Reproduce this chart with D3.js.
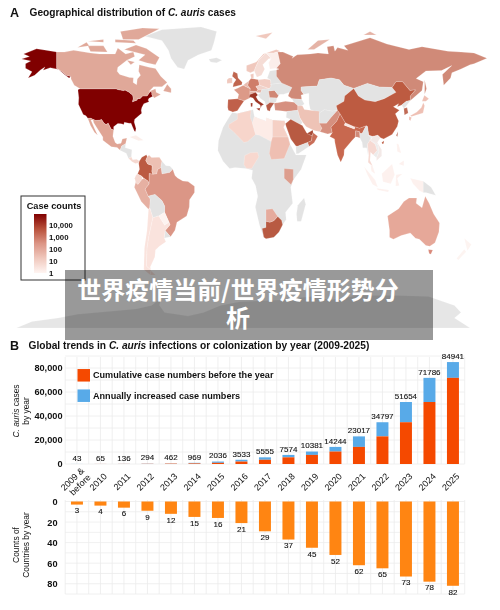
<!DOCTYPE html>
<html><head><meta charset="utf-8">
<script src="https://cdnjs.cloudflare.com/ajax/libs/d3/7.8.5/d3.min.js"></script>
<style>
html,body{margin:0;padding:0;background:#fff;overflow:hidden}
svg{display:block}
text{font-family:"Liberation Sans",Arial,sans-serif;fill:#111}
</style></head><body>
<svg id="c" width="500" height="610"></svg>
<script>
// ---------- data ----------
const years = ["2009 & before","2010","2011","2012","2013","2014","2015","2016","2017","2018","2019","2020","2021","2022","2023","2024","2025"];
const totals = [43,65,136,294,462,969,2036,3533,5555,7574,10381,14244,23017,34797,51654,71786,84941];
const before = [0,43,65,136,294,462,969,2036,3533,5555,7574,10381,14244,23017,34797,51654,71786];
const countries = [3,4,6,9,12,15,16,21,29,37,45,52,62,65,73,78,82];
const caseTicks = [0,20000,40000,60000,80000];
const countryTicks = [0,20,40,60,80];
const legendTicks = ["10,000","1,000","100","10","1"];
const seriesNames = ["Cumulative case numbers before the year","Annually increased case numbers"];

const GREY="#e3e3e3";
// country outlines as [lon,lat]
const land = [
 ["Antarctica","#e6e6e6",[[-172,-84.6],[-160,-81],[-140,-79],[-125,-77],[-110,-76],[-95,-75],[-80,-74],[-68,-72],[-61,-68],[-62,-72],[-58,-76],[-40,-78],[-28,-76],[-15,-72],[0,-70],[30,-69],[55,-67],[70,-69],[90,-66.5],[120,-66.5],[145,-67],[165,-72],[170,-76],[165,-79],[177,-84.6]]],
 ["Greenland",GREY,[[-73,78.3],[-60,82],[-30,83.5],[-18,81],[-20,75],[-22,70.5],[-32,68],[-40,65],[-43,60],[-48,61],[-53,66],[-55,70.5],[-60,76]]],
 ["Iceland",GREY,[[-24,65.5],[-18,66.3],[-14,65],[-18,63.5],[-22.5,64]]],
 ["Alaska","#800000",[[-141,69.6],[-141,60.3],[-137.5,58.9],[-133.5,56.5],[-130,55.9],[-131.5,55],[-135,57],[-139.5,59.8],[-146,60.8],[-151.5,59.3],[-150,61.2],[-153.5,59.5],[-158,56.5],[-163,55],[-160,58.5],[-165,60.5],[-165,63],[-161,64.5],[-168,65.6],[-162,67],[-166.5,68.4],[-156.5,71.3],[-148,70.4]]],
 ["USA","#800000",[[-124.7,48.4],[-123,49],[-95.2,49],[-94.6,48.7],[-92,48.3],[-89.6,48],[-88.4,48.3],[-84.9,46.9],[-84.5,46.5],[-83.6,46.1],[-82.5,45.3],[-82.1,43.6],[-82.7,41.7],[-79,42.8],[-79.2,43.5],[-76.8,43.6],[-75,45],[-71.5,45],[-70.3,46.2],[-69.2,47.4],[-67.8,47.1],[-67.8,45.7],[-67,44.8],[-70,43.7],[-70.7,42.7],[-70,41.7],[-74,40.7],[-75.5,38.5],[-76,37],[-75.6,35.3],[-77.9,33.9],[-81,32],[-81.4,30.5],[-80,26.8],[-80.4,25.2],[-81.2,25.3],[-82.8,28],[-83.8,29.8],[-85.3,29.7],[-89,30.3],[-89.3,29.1],[-91.5,29.5],[-94,29.6],[-97.2,27.8],[-97.2,26],[-99.2,26.5],[-101.4,29.8],[-103,29],[-104.6,29.8],[-106.5,31.8],[-108.2,31.4],[-111,31.3],[-114.8,32.5],[-117.1,32.5],[-118.5,34],[-120.6,34.6],[-122.4,37.5],[-124.3,40.3],[-124,44]]],
 ["Canada","#e0a899",[[-141,69.6],[-135,69.5],[-128,70.5],[-115,69],[-108,68.5],[-96,68.5],[-94,71.8],[-88,68.5],[-82,69.5],[-81,67],[-87,65],[-94,61],[-94.5,58.8],[-92.5,57],[-85,55.3],[-82,55.2],[-82.2,52.5],[-79.5,51.3],[-79,54.5],[-76.5,56.5],[-78,58.8],[-77.5,62.4],[-70,61],[-65,60.3],[-61,56],[-56,52.5],[-60,50.2],[-66.5,50.2],[-70,47.5],[-65,49],[-64.5,47],[-61,45.8],[-66,43.8],[-67,44.8],[-67.8,45.7],[-67.8,47.1],[-69.2,47.4],[-70.3,46.2],[-71.5,45],[-75,45],[-76.8,43.6],[-79.2,43.5],[-79,42.8],[-82.7,41.7],[-82.1,43.6],[-82.5,45.3],[-83.6,46.1],[-84.5,46.5],[-84.9,46.9],[-88.4,48.3],[-89.6,48],[-92,48.3],[-94.6,48.7],[-95.2,49],[-123,49],[-127.5,51],[-130,54.5],[-130,55.9],[-133.5,56.5],[-137.5,58.9],[-141,60.3]]],
 ["Baffin","#e0a899",[[-80,73.5],[-72,71.5],[-62,66.5],[-65,62.5],[-72,63.5],[-78,65],[-73,68],[-89,71]]],
 ["Victoria","#e0a899",[[-117,73],[-105,73],[-102,69.5],[-115,69.8]]],
 ["Ellesmere","#e0a899",[[-90,76.5],[-78,76.5],[-62,82.5],[-75,83],[-92,81]]],
 ["Banks","#e0a899",[[-125,72],[-118,75],[-116,73]]],
 ["Melville","#e0a899",[[-117,75.5],[-105,76.5],[-105,75]]],
 ["Devon","#e0a899",[[-96,75],[-80,74.5],[-82,76],[-96,76.5]]],
 ["Southampton","#e0a899",[[-87,65],[-81,64],[-84,62.5]]],
 ["Newfoundland","#e0a899",[[-59,47.7],[-53,46.8],[-53,49],[-56,51.5]]],
 ["Mexico","#e0a595",[[-117.1,32.5],[-114.8,32.5],[-111,31.3],[-108.2,31.4],[-106.5,31.8],[-104.6,29.8],[-103,29],[-101.4,29.8],[-99.2,26.5],[-97.2,26],[-97.8,22.5],[-96,19],[-94.5,18.2],[-91.5,18.6],[-90.5,21],[-87,21.5],[-88,18.3],[-89,17.9],[-91,17],[-92.2,14.6],[-94.5,16.2],[-99,16.6],[-105.5,20.2],[-105.5,22],[-109.5,26.5],[-112.5,30],[-113,31.5],[-114.7,31.5],[-112,27],[-109.5,23],[-112,24.7],[-115,28.5]]],
 ["Central America",GREY,[[-92.2,14.6],[-91,17],[-89,17.9],[-88,18.3],[-88.3,16],[-83.2,15],[-83.6,11],[-85.7,10],[-87.5,13]]],
 ["Panama","#f5d8d0",[[-83.6,11],[-82.5,9.3],[-79.5,9.6],[-77.4,8.6],[-78,7.5],[-80.5,7.3],[-83,8.3],[-85.7,10]]],
 ["Cuba","#fbeeea",[[-85,22],[-80,23],[-74.2,20.2],[-78,20]]],
 ["Colombia","#bb5a42",[[-77.4,8.6],[-75.5,10.8],[-72,12.2],[-71.3,11],[-72.5,9],[-71,7],[-67.5,6.2],[-67.8,2.8],[-67,1.2],[-69.8,1.7],[-69.9,-4.2],[-70.8,-2.5],[-74,-1],[-75.5,0.1],[-78.8,1.4],[-77.3,4],[-77.9,7.2]]],
 ["Venezuela","#edc0b3",[[-71.3,11],[-72.5,9],[-71,7],[-67.5,6.2],[-67.8,2.8],[-67,1.2],[-64,1.5],[-63.4,3.9],[-60.8,5],[-60,8.5],[-62,10.7],[-68,10.6],[-70,12]]],
 ["Guianas",GREY,[[-60,8.5],[-60.8,5],[-60,1.4],[-56,2],[-54,2.3],[-51.7,4],[-54,5.8],[-57,6]]],
 ["Ecuador","#f5d8d0",[[-78.8,1.4],[-75.5,0.1],[-75.3,-1.5],[-78.5,-4.5],[-80.3,-3.4],[-81,-1],[-80,0.8]]],
 ["Peru","#e6b0a2",[[-80.3,-3.4],[-78.5,-4.5],[-75.3,-1.5],[-74,-1],[-70.8,-2.5],[-69.9,-4.2],[-73,-7],[-70.6,-11],[-69,-12.5],[-69.4,-17.5],[-70.4,-18.3],[-76,-14],[-81.3,-6]]],
 ["Brazil","#db9686",[[-51.7,4],[-54,2.3],[-56,2],[-60,1.4],[-60.8,5],[-63.4,3.9],[-64,1.5],[-67,1.2],[-69.8,1.7],[-69.9,-4.2],[-73,-7],[-70.6,-11],[-65.4,-10],[-60,-13.5],[-58,-16.5],[-58,-20],[-54.6,-25.5],[-53.8,-27],[-57.6,-30.2],[-53.4,-33.7],[-50,-30],[-48.5,-25.5],[-41,-22],[-39,-17],[-38.8,-13],[-35,-9],[-35,-5.5],[-40,-2.8],[-44,-2.5],[-48,-0.8],[-50,0.5]]],
 ["Bolivia",GREY,[[-69,-12.5],[-70.6,-11],[-65.4,-10],[-60,-13.5],[-58,-16.5],[-58,-20],[-62.5,-22],[-67,-23],[-69.4,-17.5]]],
 ["Paraguay","#fdf3f0",[[-62.5,-22],[-58,-20],[-54.6,-25.5],[-58,-27.2]]],
 ["Uruguay",GREY,[[-57.6,-30.2],[-53.4,-33.7],[-58.3,-34.3]]],
 ["Chile","#fae3dd",[[-69.4,-17.5],[-67,-23],[-70,-33],[-71.5,-40],[-72,-50],[-68.5,-52.3],[-69,-55],[-74,-52],[-73.5,-40],[-71.5,-30],[-70.4,-18.3]]],
 ["Argentina","#fae3dd",[[-67,-23],[-62.5,-22],[-58,-27.2],[-54.6,-25.5],[-53.8,-27],[-57.6,-30.2],[-58.3,-34.3],[-57,-36.5],[-62,-39],[-65,-41],[-65.5,-45],[-69,-50.5],[-68.5,-52.3],[-72,-50],[-71.5,-40],[-70,-33]]],
 ["Tierra del Fuego","#fae3dd",[[-68.5,-52.7],[-65,-55],[-69,-55]]],
 ["Africa",GREY,[[-6,35.8],[-2,35.2],[10,37.3],[11,33.5],[15,32.3],[20,31],[20,32.8],[25,31.6],[32.5,31.2],[34.3,31.2],[33.5,27.5],[37,22],[38.5,18],[43,12],[51,12],[47,4],[41,-2],[39,-6],[40.5,-15],[35,-20],[35.5,-24],[32.8,-27],[30,-31],[26,-34],[20,-34.8],[18.3,-34],[15,-27],[11.8,-17],[13.7,-11],[12,-5],[9,-1],[9.7,3.5],[5,4.5],[-4,5],[-8,4.5],[-13,8.5],[-17,14.5],[-16.5,20],[-13,27.5],[-9.7,31.5]]],
 ["Algeria","#f7d5cb",[[-2,35.2],[8.5,37],[8,33],[9.5,30],[12,23.5],[6,19.5],[3,19],[-5,25],[-8.7,27.3],[-8.7,29],[-2,32]]],
 ["Libya","#fdece7",[[11,33.5],[15,32.3],[20,31],[20,32.8],[25,31.6],[25,20],[24,19.5],[15,23],[12,23.5],[9.5,30]]],
 ["Egypt","#f5d0c5",[[25,31.6],[32.5,31.2],[34.3,31.2],[34.9,29.4],[33.5,27.5],[37,22],[25,22]]],
 ["Sudan","#efbfb2",[[25,22],[37,22],[38.5,18],[36.5,14.5],[34,10],[24,9.5],[22.5,13],[24,19.5]]],
 ["Nigeria","#f8d8cf",[[3,6.5],[3.6,11.7],[8,13.3],[13.5,13.5],[14.5,11],[9,4.5],[5,4.5]]],
 ["Kenya","#dd9e8e",[[34,4.5],[41,4],[41,-1.7],[39.3,-4.6],[34,-1]]],
 ["South Africa","#b85a42",[[17,-29],[20,-28.5],[20,-25],[23,-25.5],[26,-24.7],[29,-22.3],[32,-24.5],[32.8,-27],[30,-31],[26,-34],[20,-34.8],[18.3,-34]]],
 ["Botswana","#e5ab9d",[[20,-18.5],[25,-18],[29,-22.3],[26,-24.7],[23,-25.5],[20,-25]]],
 ["Madagascar",GREY,[[49.3,-12],[50.5,-15.5],[47,-25],[44,-25],[43.5,-21],[44.5,-16]]],
 ["UK","#c0664f",[[-5.5,50],[1.4,51.2],[1.7,52.7],[-1.5,55],[-2,57.6],[-5,58.6],[-6,56],[-3,54],[-5,52]]],
 ["Ireland","#f0c8bd",[[-10,52],[-6,52.2],[-6,55],[-8.5,55],[-10,54]]],
 ["Spain","#c0604a",[[-9.2,43],[-1.8,43.4],[3.2,42.3],[0,39],[-2,36.8],[-5.5,36],[-9,37],[-9.5,38.7]]],
 ["France","#dc9a88",[[-1.8,43.4],[3.2,42.3],[7.5,43.8],[8,49],[2.5,51],[-1.5,49.5],[-4.7,48.5],[-1,46]]],
 ["Benelux","#e8bcb0",[[2.5,51],[4,52],[7,53.5],[6,51],[8,49]]],
 ["Germany","#cf7d69",[[6,51],[7,53.5],[8.6,54.9],[14.2,54],[15,51],[12.2,50.3],[13.8,48.7],[13,47.5],[7.6,47.6],[8,49]]],
 ["Austria","#e5b3a6",[[7.6,47.6],[13,47.5],[13.8,48.7],[17,48.7],[16,46.8],[12,47],[7.5,45.8]]],
 ["Poland","#f3cdc3",[[14.2,54],[19,54.5],[23.5,54],[24,50.5],[22.5,49],[15,51]]],
 ["Czechia","#f0d2ca",[[12.2,50.3],[15,51],[22.5,49],[17,48.7],[13.8,48.7]]],
 ["Balkans",GREY,[[16,46.8],[17,48.7],[22.5,49],[22,47.8],[22.8,44],[23,41.4],[20,39.7],[19,42],[16,43.5],[13.7,45.6]]],
 ["Italy","#9d3626",[[7,44],[7.5,45.8],[12,47],[13.7,45.6],[12.3,44.5],[14,42.5],[18.4,40.2],[16.5,39.5],[16,38],[15.5,40],[12,41.8],[10,43.8],[8,44.3]]],
 ["Sicily","#9d3626",[[12.5,38],[15.5,38.2],[15,36.7]]],
 ["Sardinia","#9d3626",[[8.2,41],[9.7,41],[9.5,39.1],[8.4,39]]],
 ["Romania","#d08775",[[22,47.8],[26.5,48.2],[29.7,45.2],[28.5,43.8],[22.8,44]]],
 ["Bulgaria",GREY,[[22.8,44],[28.5,43.8],[27.8,42],[26.3,41],[23,41.4]]],
 ["Greece","#b85c48",[[20,39.7],[23,41.4],[26.3,41],[23.5,38],[23,36.5],[21,37]]],
 ["Ukraine",GREY,[[24,50.5],[23.5,51.5],[32,52.3],[40,49.7],[38,47],[33.5,46],[30.5,46],[29.7,45.2],[26.5,48.2],[22,47.8],[22.5,49]]],
 ["Belarus-Baltics",GREY,[[23.5,54],[21,55],[23,59],[28,59.5],[28,56],[32,52.3],[23.5,51.5],[24,50.5]]],
 ["Norway","#f0c8bd",[[5,59],[8,58],[11,59],[12,61],[14.5,65],[20,69],[26,69],[31,70],[28,71],[18,68.5],[12.5,64],[5,62]]],
 ["Sweden","#f5dcd5",[[11,59],[13,55.5],[16.5,56.5],[19,60],[17.5,62.5],[22,65.8],[24,66],[20,69],[14.5,65],[12,61]]],
 ["Finland","#fbeeea",[[24,66],[22,63.5],[23,60],[28,60.5],[31,63],[29,69.5],[26,69],[20,69]]],
 ["Denmark","#f0c8bd",[[8.6,54.9],[8,57],[10.5,57.5],[10.5,55]]],
 ["Russia","#d08a78",[[28,59.5],[30,60],[28,60.5],[31,63],[29,69.5],[33,69.5],[41,67],[40,66],[44,68],[54,68.5],[60,69],[68,68.5],[67,72.5],[72,73],[73,70],[75,72],[83,70.5],[80,73],[100,77.5],[113,74],[130,71],[140,72.5],[160,70],[170,69.5],[180,69],[190,66],[180,63],[177,62.5],[170,60],[163,58],[162,55],[156.7,51],[155.7,57],[163,62],[155,59.2],[143,59],[135.5,54.7],[141,53],[140,48],[132,43],[131,42.5],[131,45],[135,48.4],[130.7,48],[125,53],[120,53],[117,49.7],[107,50],[98,52],[87.5,49.2],[80,51],[76.5,54],[70,55],[61,54],[59.5,50.5],[47,50],[47,48],[49,46],[47.5,43],[40,43.5],[37,45],[38,47],[40,49.7],[32,52.3],[28,56]]],
 ["Sakhalin","#d08a78",[[142,54],[143.5,49],[142,46],[142,50]]],
 ["Novaya Zemlya","#e5b3a6",[[52,71],[57,71],[69,76.5],[60,76]]],
 ["Svalbard","#f0c8bd",[[12,78.5],[25,80.5],[20,77]]],
 ["Severnaya Zemlya","#e5b3a6",[[95,79],[105,79],[100,81]]],
 ["Central Asia",GREY,[[47,50],[59.5,50.5],[61,54],[70,55],[76.5,54],[80,51],[87.5,49.2],[80.5,45],[80,42],[74,39.5],[75,37],[71,36.5],[65,37.3],[61,35.5],[54,37.5],[53,41],[51,45],[49,46],[47,48]]],
 ["Caspian","#ffffff",[[47,45.5],[53,46.5],[53,40],[54,37],[50,37.2],[49.5,40.5],[47.5,43]]],
 ["Mongolia",GREY,[[87.5,49.2],[98,52],[107,50],[117,49.7],[120,47],[111,43.5],[104,41.8],[96,42.7],[91,45]]],
 ["Caucasus",GREY,[[40,43.5],[47.5,43],[49.5,40.5],[46,39],[43,40.5],[41.5,41.5]]],
 ["Turkey","#d69080",[[26.3,41],[29,41.2],[35,42],[41.5,41.5],[44.5,39.5],[44.5,37],[36,36.3],[31,36.8],[27,37]]],
 ["Levant-Iraq",GREY,[[36,36.3],[44.5,37],[46,33],[48,30],[46.5,29],[39,32],[35.5,33]]],
 ["Saudi Arabia","#b85a42",[[34.9,29.4],[39,32],[46.5,29],[48,28.5],[50,26],[51.2,24.5],[55.5,22.7],[55,20],[52,19],[44,16.8],[43,17],[39,21],[35.5,28]]],
 ["UAE","#a84a35",[[51.5,24],[56,26],[56.3,24.5],[55.5,22.7]]],
 ["Oman","#c96e58",[[56.3,24.5],[59.8,22.5],[57,18.8],[53,16.7],[52,19],[55,20],[55.5,22.7]]],
 ["Yemen",GREY,[[44,16.8],[52,19],[53,16.7],[45,12.8],[43.3,12.7],[43,17]]],
 ["Iran","#eec3b6",[[44.5,39.5],[48,39.5],[49.5,37.5],[54,37],[61,36.5],[61,31],[63,27],[61.5,25],[57,25.7],[51,27.8],[48.5,30],[46,33],[44.5,37]]],
 ["Afghanistan",GREY,[[61,35.5],[65,37.3],[71,36.5],[75,37],[70,33],[66.5,29.8],[61,29.8]]],
 ["Pakistan","#d6907f",[[61.5,25],[63,27],[61,29.8],[66.5,29.8],[70,33],[75,37],[77,35],[74.5,31],[70,27.5],[71,24.5],[67.5,23.8]]],
 ["India","#c8684f",[[77,35],[79,32.5],[81,30],[80.3,28.7],[88,26.5],[88.3,27.8],[92,27],[97,28.3],[94,24],[92.3,24],[92,25],[89,25.5],[88.7,22],[86,20],[80.2,15],[80,12],[77.5,8],[75,12],[73,19],[72.7,21],[69,22.3],[71,24.5],[70,27.5],[74.5,31]]],
 ["Nepal","#f8e6e1",[[81,30],[88,27.8],[88,26.5],[80.3,28.7]]],
 ["Bangladesh","#d08a78",[[88.7,22],[89,25.5],[92,25],[92.3,21.5],[90,22]]],
 ["China","#bd5b41",[[74,39.5],[80,42],[80.5,45],[87.5,49.2],[91,45],[96,42.7],[104,41.8],[111,43.5],[120,47],[117,49.7],[120,53],[125,53],[130.7,48],[135,48.4],[131,45],[131,42.5],[128,42],[124.4,40],[121,39],[122,40.7],[118,39],[122.6,37],[119.5,35],[122,31],[121,28],[117,23.5],[110.5,21],[108,21.6],[106,23],[102,22.4],[99,23],[98,28],[97,28.3],[92,27],[88.3,27.8],[88,27.8],[81,30],[79,32.5],[77,35],[75,37]]],
 ["Hainan","#bd5b41",[[109,19],[110.8,20],[110.5,18.5],[109.5,18.2]]],
 ["Taiwan","#a84a35",[[120.2,23],[121.6,25.2],[121,22.2]]],
 ["North Korea",GREY,[[124.4,40],[128,42],[131,42.5],[128,39.5],[126,38]]],
 ["South Korea","#c06a55",[[126,38],[128.5,38.5],[129.4,35.5],[126.5,34.4]]],
 ["Honshu","#efc0b4",[[130.9,34],[136,36],[139.5,38.5],[141,41.3],[142,39.5],[140.8,35.5],[137,34.6],[132,33.5]]],
 ["Hokkaido","#efc0b4",[[140,42],[141.8,45.4],[145.3,43.4],[143,42]]],
 ["Kyushu","#efc0b4",[[130,33.5],[132,33],[131,31],[130,32]]],
 ["Myanmar",GREY,[[92.3,21.5],[92.3,24],[94,24],[97,28.3],[98,28],[99,23],[101,21.5],[98,18],[98.5,12],[97.5,16],[94.5,16],[94,19]]],
 ["Laos-Cambodia","#ececec",[[99,23],[102,22.4],[100.5,20],[104,18],[105.5,14.5],[102.5,12],[105,10.5],[107,14],[106,18],[101,21.5]]],
 ["Thailand","#f6d9d2",[[101,21.5],[100.5,20],[104,18],[105.5,14.5],[102.5,12],[100.5,13.5],[100,9],[102,6],[100.5,6.5],[98.5,8],[99,12],[98,18]]],
 ["Vietnam","#f3e9e7",[[102,22.4],[106,23],[108,21.6],[105.7,19],[109,15],[109,11.5],[105,8.8],[105,10.5],[107,14],[106,18],[100.5,20]]],
 ["Sumatra","#fdf1ee",[[95.5,5.5],[104,-2],[106,-6],[102,-4.5],[98,1]]],
 ["Java","#fdf1ee",[[105,-6.5],[114.5,-7.5],[114,-8.7],[106,-7.5]]],
 ["Borneo","#fdf1ee",[[109,1.5],[117,7],[119,1],[116,-4],[110,-3]]],
 ["Sulawesi","#fdf1ee",[[120,1],[125,1.5],[121,-1],[122.5,-5],[119.7,-5.5]]],
 ["Malaya","#fdf1ee",[[100.5,6.5],[102,6],[104,1.5],[101,3]]],
 ["Luzon","#fdf1ee",[[120.5,18.5],[122,18],[124,13],[121,14]]],
 ["Mindanao","#fdf1ee",[[122,7],[126,9],[126,6]]],
 ["New Guinea","#fdf1ee",[[131,-1],[141,-2.6],[141,-9],[138,-8],[133,-4]]],
 ["PNG",GREY,[[141,-2.6],[147,-6],[150.5,-10.5],[143,-9],[141,-9]]],
 ["Australia","#e6a899",[[113.5,-22],[122,-18],[126,-14],[130,-12],[136,-12],[135.5,-15],[140,-17.5],[142.5,-11],[145.5,-15],[149,-21],[153.5,-26],[153,-31],[150,-37],[146,-39],[143,-38.5],[138,-35],[135,-34.5],[131,-31.5],[124,-33],[118,-35],[115,-34],[115,-30]]],
 ["Tasmania","#d9897a",[[144.8,-40.8],[148.3,-41],[146.8,-43.5],[145.5,-43]]],
 ["NZ North","#fdf4f1",[[172.5,-34.5],[178,-38],[175,-41.5],[174,-39]]],
 ["NZ South","#fdf4f1",[[172.5,-40.7],[174,-42],[168,-46.7],[166.5,-45.8]]]
];

// ---------- layout ----------
const svg = d3.select("#c");
const g = svg.append("g").style("filter","blur(0.55px)");
const lonX = d3.scaleLinear().domain([0,100]).range([240,370]);
const latY = d3.scaleLinear().domain([0,100]).range([176.5,-2.5]);
const ring = d3.line().x(d=>lonX(d[0])).y(d=>latY(d[1])).curve(d3.curveLinearClosed);

// ---------- map ----------
g.append("g").selectAll("path").data(land).join("path")
  .attr("d",d=>ring(d[2])).attr("fill",d=>d[1])
  .attr("stroke",d=>d[1]==GREY?"#f2f2f2":"#ffffff").attr("stroke-opacity",.55).attr("stroke-width",.35);

// titles
function title(x,y,parts,size){
  const t=g.append("text").attr("x",x).attr("y",y).attr("font-size",size).attr("font-weight","bold");
  parts.forEach(p=>t.append("tspan").text(p[0]).attr("font-style",p[1]?"italic":"normal"));
  return t;
}
title(10,17,[["A"]],12.5);
title(29.5,15.8,[["Geographical distribution of "],["C. auris",1],[" cases"]],10.15);
title(10,349.5,[["B"]],12.5);
title(28.5,348.8,[["Global trends in "],["C. auris",1],[" infections or colonization by year (2009-2025)"]],10.2);

// colour legend
const defs=svg.append("defs");
const lg=defs.append("linearGradient").attr("id","lg").attr("x1",0).attr("x2",0).attr("y1",0).attr("y2",1);
[[0,"#800000"],[.25,"#b8503a"],[.5,"#dc9585"],[.75,"#f0c8bd"],[1,"#fff5f2"]].forEach(s=>lg.append("stop").attr("offset",s[0]).attr("stop-color",s[1]));
g.append("rect").attr("x",21).attr("y",196).attr("width",64).attr("height",84).attr("fill","#fff").attr("stroke","#333").attr("stroke-width",1);
g.append("text").attr("x",54).attr("y",209).attr("text-anchor","middle").attr("font-size",9.2).attr("font-weight","bold").text("Case counts");
g.append("rect").attr("x",34).attr("y",214).attr("width",12.5).attr("height",59).attr("fill","url(#lg)");
const legY=d3.scalePoint().domain(legendTicks).range([225,273]);
g.append("g").selectAll("text").data(legendTicks).join("text")
  .attr("x",49).attr("y",d=>legY(d)).attr("dy","0.35em").attr("font-size",7.8).attr("font-weight","bold").text(d=>d);

// ---------- chart scales ----------
const x=d3.scaleBand().domain(years).range([65.2,464.7]).paddingInner(.49).paddingOuter(.245);
const yCases=d3.scaleLinear().domain([0,90000]).range([464,356]);
const yCountries=d3.scaleLinear().domain([0,90]).range([501.5,594]);
const step=x.step();
const gridX=d3.range(0,35).map(i=>65.2+i*step/2);

function grid(y,vals,top,bot){
  const gg=g.append("g").attr("stroke","#ececec").attr("stroke-width",.8);
  gg.selectAll("line.h").data(vals).join("line").attr("class","h").attr("x1",65.2).attr("x2",464.7).attr("y1",d=>y(d)).attr("y2",d=>y(d));
  gg.selectAll("line.v").data(gridX).join("line").attr("class","v").attr("x1",d=>d).attr("x2",d=>d).attr("y1",top).attr("y2",bot);
}
grid(yCases,d3.range(0,100000,10000),357,464);
grid(yCountries,d3.range(0,100,10),500,594);

// top bars
const iv=years.map((y,i)=>i);
g.append("g").selectAll("rect").data(iv).join("rect")
  .attr("x",i=>x(years[i])).attr("width",x.bandwidth())
  .attr("y",i=>yCases(totals[i])).attr("height",i=>yCases(before[i])-yCases(totals[i])).attr("fill","#58aae8");
g.append("g").selectAll("rect").data(iv).join("rect")
  .attr("x",i=>x(years[i])).attr("width",x.bandwidth())
  .attr("y",i=>yCases(before[i])).attr("height",i=>yCases(0)-yCases(before[i])).attr("fill","#f54900");
g.append("g").selectAll("text").data(iv).join("text")
  .attr("x",i=>x(years[i])+x.bandwidth()/2)
  .attr("y",i=>Math.min(yCases(totals[i])-6,459.5)).attr("dy","0.35em")
  .attr("text-anchor","middle").attr("font-size",8).attr("font-weight",500).style("stroke","#111").style("stroke-width",.12).text(i=>totals[i]);

// top axes
const yAxisTop=g.append("g").attr("transform","translate(62.5,0)")
  .call(d3.axisLeft(yCases).tickValues(caseTicks).tickSize(0).tickPadding(0).tickFormat(d3.format(",")));
yAxisTop.select(".domain").remove();
yAxisTop.selectAll("text").attr("font-size",9.2).attr("font-family","Liberation Sans").attr("font-weight","bold").attr("fill","#333");

const xAxis=g.append("g").attr("transform","translate(0,466)")
  .call(d3.axisBottom(x).tickSize(0).tickFormat(""));
xAxis.select(".domain").remove();
xAxis.selectAll(".tick").each(function(d){
  const t=d3.select(this).append("text").attr("transform","translate(7,11) rotate(-45)")
    .attr("text-anchor","end").attr("font-size",9).attr("fill","#111").attr("font-family","Liberation Sans");
  if(d.includes("&")){
    t.attr("transform","translate(11.5,9) rotate(-45)");
    t.append("tspan").attr("x",0).attr("dy","-0.6em").text("2009 &");
    t.append("tspan").attr("x",0).attr("dy","1.05em").text("before");
  } else t.text(d);
});

// axis titles
function rotLabel(cx,cy,lines){
  lines.forEach((ln,i)=>{
    const t=g.append("text").attr("transform",`translate(${cx+i*9.5},${cy}) rotate(-90)`).attr("text-anchor","middle").attr("font-size",8.4);
    ln.forEach(p=>t.append("tspan").text(p[0]).attr("font-style",p[1]?"italic":"normal"));
  });
}
rotLabel(19,411,[[["C. auris",1],[" cases"]],[["by year"]]]);
rotLabel(19,545,[[["Counts of"]],[["Countries by year"]]]);

// series legend
const legSwatch=["#f54900","#58aae8"];
const legY2=d3.scalePoint().domain(seriesNames).range([375.3,395.7]);
g.append("g").selectAll("rect").data(seriesNames).join("rect")
  .attr("x",77.5).attr("width",12.5).attr("height",12.5).attr("y",d=>legY2(d)-6.25).attr("fill",(d,i)=>legSwatch[i]);
g.append("g").selectAll("text").data(seriesNames).join("text")
  .attr("x",93).attr("y",d=>legY2(d)).attr("dy","0.35em").attr("font-size",9.1).attr("font-weight","bold").attr("fill","#222").text(d=>d);

// bottom bars
g.append("g").selectAll("rect").data(iv).join("rect")
  .attr("x",i=>x(years[i])).attr("width",x.bandwidth())
  .attr("y",yCountries(0)).attr("height",i=>yCountries(countries[i])-yCountries(0)).attr("fill","#ff8512");
g.append("g").selectAll("text").data(iv).join("text")
  .attr("x",i=>x(years[i])+x.bandwidth()/2)
  .attr("y",i=>yCountries(countries[i])+6).attr("dy","0.35em")
  .attr("text-anchor","middle").attr("font-size",8).style("stroke","#111").style("stroke-width",.12).text(i=>countries[i]);
const yAxisBot=g.append("g").attr("transform","translate(57.5,0)")
  .call(d3.axisLeft(yCountries).tickValues(countryTicks).tickSize(0).tickPadding(0));
yAxisBot.select(".domain").remove();
yAxisBot.selectAll("text").attr("font-size",9.2).attr("font-family","Liberation Sans").attr("font-weight","bold").attr("fill","#333");

// ---------- banner ----------
svg.append("rect").attr("x",65).attr("y",270).attr("width",368).attr("height",70).attr("fill","rgba(0,0,0,0.4)");
const bannerLines=["世界疫情当前/世界疫情形势分","析"];
const banner=svg.append("text").attr("y",290).attr("dy","0.36em").attr("text-anchor","middle")
  .style("font-family",'"Noto Sans CJK SC"').style("fill","#fff")
  .attr("font-size",24).attr("font-weight","bold");
banner.selectAll("tspan").data(bannerLines).join("tspan")
  .attr("x",238).attr("y",(d,i)=>298.6+i*28).attr("dy",0).text(d=>d);
</script>
</body></html>
